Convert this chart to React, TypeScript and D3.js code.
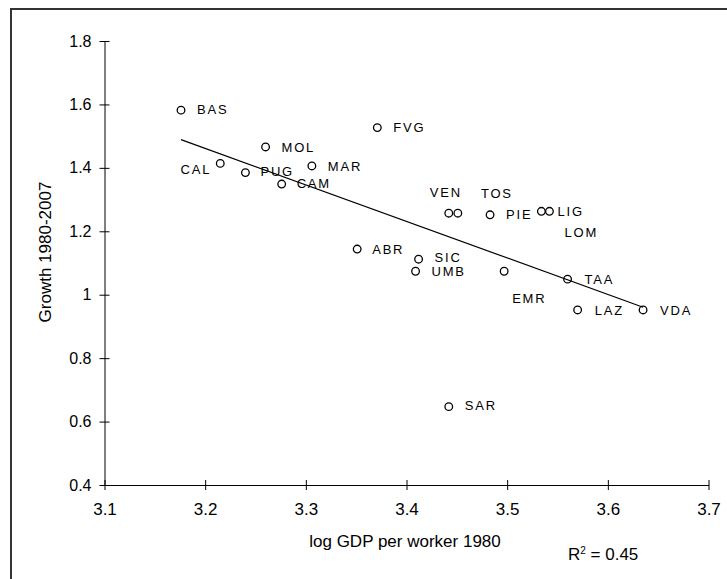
import React, { useEffect, useRef } from "react";
import * as d3 from "d3";

// Italian regions: log GDP per worker 1980 vs growth 1980-2007
const regions = ["BAS", "CAL", "PUG", "MOL", "CAM", "MAR", "ABR", "FVG", "UMB", "SIC", "SAR", "VEN", "TOS", "PIE", "EMR", "LOM", "LIG", "TAA", "LAZ", "VDA"];
const logGdp1980 = [3.176, 3.215, 3.240, 3.260, 3.276, 3.306, 3.351, 3.371, 3.409, 3.412, 3.442, 3.442, 3.451, 3.483, 3.497, 3.534, 3.542, 3.560, 3.570, 3.635];
const growth = [1.582, 1.414, 1.385, 1.466, 1.349, 1.406, 1.144, 1.527, 1.074, 1.112, 0.647, 1.257, 1.257, 1.252, 1.074, 1.263, 1.263, 1.049, 0.952, 0.952];

const xTicks = [3.1, 3.2, 3.3, 3.4, 3.5, 3.6, 3.7];
const yTicks = [0.4, 0.6, 0.8, 1, 1.2, 1.4, 1.6, 1.8];
const rSquaredLabel = "0.45";

// label placement relative to the marker (px), as dragged around in the original
const labelPos: Record<string, [number, number, string]> = {
  BAS: [16, -1, "start"],
  CAL: [-9, 6, "end"],
  PUG: [15, -1, "start"],
  MOL: [16, 0, "start"],
  CAM: [15, -1, "start"],
  MAR: [16, 0, "start"],
  ABR: [15, 0, "start"],
  FVG: [16, 0, "start"],
  UMB: [16, 0.5, "start"],
  SIC: [16, -1.5, "start"],
  SAR: [16, -1, "start"],
  VEN: [-3, -21, "middle"],
  TOS: [39, -20, "middle"],
  PIE: [16, 0, "start"],
  EMR: [8, 27, "start"],
  LOM: [40, 21, "middle"],
  LIG: [8, 0, "start"],
  TAA: [17, 0, "start"],
  LAZ: [17, 0, "start"],
  VDA: [17, 0, "start"],
};

const FONT = "Arial, 'Liberation Sans', sans-serif";

export default function App() {
  const svgRef = useRef<SVGSVGElement>(null);

  useEffect(() => {
    const svg = d3.select(svgRef.current);
    svg.selectAll("*").remove();

    const x = d3.scaleLinear().domain([3.1, 3.7]).range([104.5, 708.5]);
    const y = d3.scaleLinear().domain([0.4, 1.8]).range([485, 41]);

    // frame (only top-left part visible in the crop)
    svg.append("rect")
      .attr("x", 11).attr("y", 9)
      .attr("width", 800).attr("height", 700)
      .attr("fill", "none").attr("stroke", "#333").attr("stroke-width", 2);

    // axes
    const xAxis = svg.append("g")
      .attr("transform", "translate(0,485)")
      .call(d3.axisBottom(x).tickValues(xTicks).tickSize(5).tickSizeOuter(0).tickPadding(13).tickFormat((d) => d3.format(".1f")(d as number)));
    xAxis.selectAll(".tick line").attr("y1", -5);
    xAxis.selectAll("text").attr("font-size", 17).attr("font-family", FONT).attr("fill", "#000");
    xAxis.selectAll("path, line").attr("stroke", "#000");

    const yAxis = svg.append("g")
      .attr("transform", "translate(104.5,0)")
      .call(d3.axisLeft(y).tickValues(yTicks).tickSize(5).tickSizeOuter(0).tickPadding(8).tickFormat((d) => `${+(d as number).toFixed(1)}`));
    yAxis.selectAll(".tick line").attr("x1", 5);
    yAxis.selectAll("text").attr("font-size", 16).attr("font-family", FONT).attr("fill", "#000");
    yAxis.selectAll("path, line").attr("stroke", "#000");

    // least-squares fit
    const mx = d3.mean(logGdp1980) as number;
    const my = d3.mean(growth) as number;
    const sxy = d3.sum(logGdp1980, (v, i) => (v - mx) * (growth[i] - my));
    const sxx = d3.sum(logGdp1980, (v) => (v - mx) ** 2);
    const slope = sxy / sxx;
    const icpt = my - slope * mx;
    const [x0, x1] = d3.extent(logGdp1980) as [number, number];
    svg.append("path")
      .attr("d", d3.line()([[x(x0), y(icpt + slope * x0)], [x(x1), y(icpt + slope * x1)]]))
      .attr("stroke", "#000").attr("stroke-width", 1.2).attr("fill", "none");

    // markers
    svg.append("g").selectAll("circle")
      .data(regions)
      .enter()
      .append("circle")
      .attr("cx", (_, i) => x(logGdp1980[i]))
      .attr("cy", (_, i) => y(growth[i]))
      .attr("r", 3.8)
      .attr("fill", "none")
      .attr("stroke", "#000")
      .attr("stroke-width", 1.3);

    svg.append("g").selectAll("text")
      .data(regions)
      .enter()
      .append("text")
      .attr("x", (d, i) => x(logGdp1980[i]) + labelPos[d][0])
      .attr("y", (d, i) => y(growth[i]) + labelPos[d][1] + 4.6)
      .attr("text-anchor", (d) => labelPos[d][2])
      .attr("font-size", 13)
      .attr("letter-spacing", 1.8)
      .attr("font-family", FONT)
      .text((d) => d);

    // titles
    svg.append("text")
      .attr("transform", "translate(51,252) rotate(-90)")
      .attr("text-anchor", "middle")
      .attr("font-size", 17)
      .attr("font-family", FONT)
      .text("Growth 1980-2007");

    svg.append("text")
      .attr("x", 405).attr("y", 547)
      .attr("text-anchor", "middle")
      .attr("font-size", 17)
      .attr("font-family", FONT)
      .text("log GDP per worker 1980");

    const r2 = svg.append("text")
      .attr("x", 568).attr("y", 560)
      .attr("font-size", 17)
      .attr("font-family", FONT);
    r2.append("tspan").text("R");
    r2.append("tspan").attr("font-size", 10).attr("dy", -6).text("2");
    r2.append("tspan").attr("dy", 6).text(` = ${rSquaredLabel}`);
  }, []);

  return (
    <svg
      ref={svgRef}
      width={727}
      height={579}
      style={{ position: "absolute", left: 0, top: 0, background: "#fff" }}
    />
  );
}
